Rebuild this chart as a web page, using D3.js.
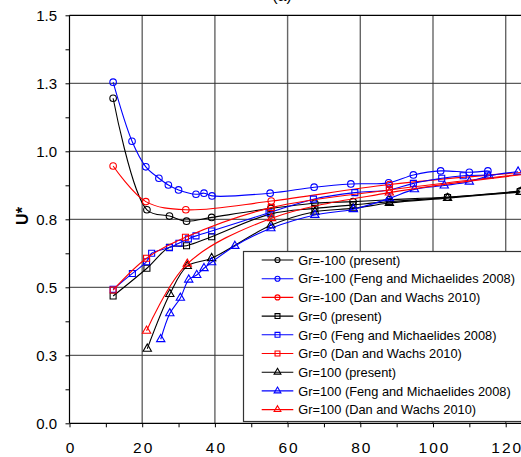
<!DOCTYPE html>
<html>
<head>
<meta charset="utf-8">
<script src="https://cdn.jsdelivr.net/npm/d3@7"></script>
<style>
  body { margin: 0; background: #fff; }
  svg { display: block; font-family: Arial, "Liberation Sans", sans-serif; }
</style>
</head>
<body>
<svg id="chart" width="521" height="457"></svg>
<script>
// tick labels
const xTicks = [0, 20, 40, 60, 80, 100, 120];
const yTicks = [0, 0.25, 0.5, 0.75, 1.0, 1.25, 1.5];
const yTickLabels = ["0.0", "0.3", "0.5", "0.8", "1.0", "1.3", "1.5"];

// present study (same x for all Gr)
const xPresent = [12, 21.3, 27.5, 32.2, 39.1, 55.4, 67.5, 78, 88, 104, 124];
const yPresentM100 = [1.195, 0.785, 0.762, 0.743, 0.757, 0.790, 0.809, 0.815, 0.822, 0.832, 0.854];
const yPresent0 = [0.468, 0.570, 0.647, 0.653, 0.686, 0.770, 0.790, 0.803, 0.815, 0.830, 0.852];
const xPresent100 = [21.4, 27.6, 32.4, 39.1, 55.4, 67.5, 78, 88, 104, 124];
const yPresent100 = [0.274, 0.475, 0.578, 0.607, 0.728, 0.778, 0.790, 0.810, 0.828, 0.850];

// Feng and Michaelides 2008
const xFengM100 = [12, 17.2, 21, 24.6, 27.2, 30, 34.8, 37, 39.2, 55.2, 67.3, 77.4, 87.8, 94.6, 102.1, 110, 115.1];
const yFengM100 = [1.254, 1.037, 0.943, 0.901, 0.876, 0.858, 0.842, 0.846, 0.836, 0.846, 0.868, 0.880, 0.884, 0.913, 0.928, 0.923, 0.928];
const xFeng0 = [12, 17.3, 21.2, 22.6, 27.5, 30.1, 32.7, 34.8, 39.1, 54.9, 67.1, 78.5, 88, 94.6, 102.4, 108.3, 115];
const yFeng0 = [0.493, 0.551, 0.594, 0.625, 0.646, 0.662, 0.678, 0.689, 0.707, 0.774, 0.824, 0.848, 0.858, 0.882, 0.901, 0.910, 0.913];
const xFeng100 = [25.1, 27.6, 30.5, 32.8, 35, 37, 39.1, 45.5, 55.4, 67.5, 78.1, 88, 94.9, 103.1, 110, 115.4, 123.4];
const yFeng100 = [0.309, 0.404, 0.461, 0.528, 0.545, 0.570, 0.592, 0.652, 0.717, 0.766, 0.787, 0.827, 0.860, 0.874, 0.888, 0.910, 0.925];

// Dan and Wachs 2010
const xDanM100 = [12, 21, 32, 55.5, 88, 127];
const yDanM100 = [0.946, 0.815, 0.785, 0.817, 0.878, 0.925];
const xDan0 = [12, 21.2, 31.9, 55.5, 88, 127];
const yDan0 = [0.490, 0.607, 0.684, 0.793, 0.858, 0.920];
const xDan100 = [21.2, 32.4, 55.6, 88, 127];
const yDan100 = [0.340, 0.586, 0.754, 0.848, 0.918];

const seriesNames = [
  "Gr=-100 (present)",
  "Gr=-100 (Feng and Michaelides 2008)",
  "Gr=-100 (Dan and Wachs 2010)",
  "Gr=0 (present)",
  "Gr=0 (Feng and Michaelides 2008)",
  "Gr=0 (Dan and Wachs 2010)",
  "Gr=100 (present)",
  "Gr=100 (Feng and Michaelides 2008)",
  "Gr=100 (Dan and Wachs 2010)"
];

const colors = ["#000000", "#0000ff", "#ff0000"];
const shapes = [d3.symbolCircle, d3.symbolSquare, d3.symbolTriangle];

const zip = (xs, ys) => xs.map((x, i) => ({ x, y: ys[i] }));
const series = [
  { pts: zip(xPresent, yPresentM100), c: 0, s: 0 },
  { pts: zip(xFengM100, yFengM100), c: 1, s: 0 },
  { pts: zip(xDanM100, yDanM100), c: 2, s: 0 },
  { pts: zip(xPresent, yPresent0), c: 0, s: 1 },
  { pts: zip(xFeng0, yFeng0), c: 1, s: 1 },
  { pts: zip(xDan0, yDan0), c: 2, s: 1 },
  { pts: zip(xPresent100, yPresent100), c: 0, s: 2 },
  { pts: zip(xFeng100, yFeng100), c: 1, s: 2 },
  { pts: zip(xDan100, yDan100), c: 2, s: 2 }
];
series.forEach((d, i) => d.name = seriesNames[i]);

const svg = d3.select("#chart");
const plotLeft = 69.5, plotTop = 15.3, plotBottom = 423.3;

const x = d3.scaleLinear().domain([0, 125]).range([plotLeft, plotLeft + 125 * 3.635]);
const y = d3.scaleLinear().domain([0, 1.5]).range([plotBottom, plotTop]);

svg.append("defs").append("clipPath").attr("id", "plot-clip")
  .append("rect")
  .attr("x", plotLeft).attr("y", plotTop)
  .attr("width", 521 - plotLeft).attr("height", plotBottom - plotTop);

// title, cut at the top like the source
svg.append("text")
  .attr("x", 282).attr("y", 0.5)
  .attr("text-anchor", "middle")
  .style("font-size", "16px")
  .text("(a)");

// grid
svg.append("g").selectAll("line")
  .data(xTicks.filter(t => t > 0))
  .join("line")
  .attr("x1", d => x(d)).attr("x2", d => x(d))
  .attr("y1", plotTop).attr("y2", plotBottom)
  .attr("stroke", "#666").attr("stroke-width", 1.4);

svg.append("g").selectAll("line")
  .data(yTicks.filter(t => t > 0 && t < 1.5))
  .join("line")
  .attr("x1", plotLeft).attr("x2", 521)
  .attr("y1", d => y(d)).attr("y2", d => y(d))
  .attr("stroke", "#333").attr("stroke-width", 1);

// frame top
svg.append("line")
  .attr("x1", plotLeft).attr("x2", 521)
  .attr("y1", plotTop).attr("y2", plotTop)
  .attr("stroke", "#000").attr("stroke-width", 1.2);

// axes
const xAxis = d3.axisBottom(x)
  .tickValues(d3.range(0, 126, 10))
  .tickSize(4)
  .tickFormat(d => xTicks.includes(d) ? d : "");
const gx = svg.append("g").attr("transform", `translate(0,${plotBottom})`).call(xAxis);
gx.select(".domain").attr("d", `M${plotLeft},0H521`).attr("stroke-width", 1.2);
gx.selectAll("text")
  .attr("dy", null).attr("y", 30)
  .attr("dx", 1)
  .style("letter-spacing", "2px")
  .style("font-size", "15.5px")
  .attr("fill", "#000");

const yAxis = d3.axisLeft(y)
  .tickValues(d3.range(0, 1.5001, 0.125))
  .tickSize(4)
  .tickFormat(d => {
    const i = yTicks.findIndex(t => Math.abs(t - d) < 1e-6);
    return i >= 0 ? yTickLabels[i] : "";
  });
const gy = svg.append("g").attr("transform", `translate(${plotLeft},0)`).call(yAxis);
gy.select(".domain").attr("d", `M0,${plotTop}V${plotBottom}`).attr("stroke-width", 1.2);
gy.selectAll("text")
  .attr("x", -12.5)
  .style("font-size", "15px")
  .attr("fill", "#000");

// y label
svg.append("text")
  .attr("transform", "translate(28,216) rotate(-90)")
  .attr("text-anchor", "middle")
  .style("font-size", "16px")
  .style("font-weight", "bold")
  .text("U*");

// series
const line = d3.line()
  .x(d => x(d.x)).y(d => y(d.y))
  .curve(d3.curveCatmullRom.alpha(0.5));

const plot = svg.append("g").attr("clip-path", "url(#plot-clip)");
const markerSize = [34, 36, 30];

series.forEach(s => {
  const g = plot.append("g");
  g.append("path")
    .attr("d", line(s.pts))
    .attr("fill", "none")
    .attr("stroke", colors[s.c])
    .attr("stroke-width", 1.1);
  g.selectAll("path.m")
    .data(s.pts)
    .join("path")
    .attr("class", "m")
    .attr("transform", d => `translate(${x(d.x)},${y(d.y)})`)
    .attr("d", d3.symbol().type(shapes[s.s]).size(markerSize[s.s]))
    .attr("fill", "none")
    .attr("stroke", colors[s.c])
    .attr("stroke-width", 1.1);
});

// legend
const lg = svg.append("g");
lg.append("rect")
  .attr("x", 243.5).attr("y", 251.5)
  .attr("width", 290).attr("height", 170)
  .attr("fill", "#fff")
  .attr("stroke", "#333").attr("stroke-width", 1.2);

const rowY = i => 260 + i * 18.7;
const items = lg.selectAll("g.item")
  .data(series)
  .join("g")
  .attr("class", "item")
  .attr("transform", (d, i) => `translate(0,${rowY(i)})`);

items.append("line")
  .attr("x1", 261.7).attr("x2", 293.3)
  .attr("stroke", d => colors[d.c]).attr("stroke-width", 1.1);
items.append("path")
  .attr("transform", "translate(277.5,0)")
  .attr("d", d => d3.symbol().type(shapes[d.s]).size([20, 24, 20][d.s])())
  .attr("fill", "none")
  .attr("stroke", d => colors[d.c])
  .attr("stroke-width", 1.1);
items.append("text")
  .attr("x", 298.3).attr("y", 4.7)
  .style("font-size", "12.8px")
  .text(d => d.name);
</script>
</body>
</html>
